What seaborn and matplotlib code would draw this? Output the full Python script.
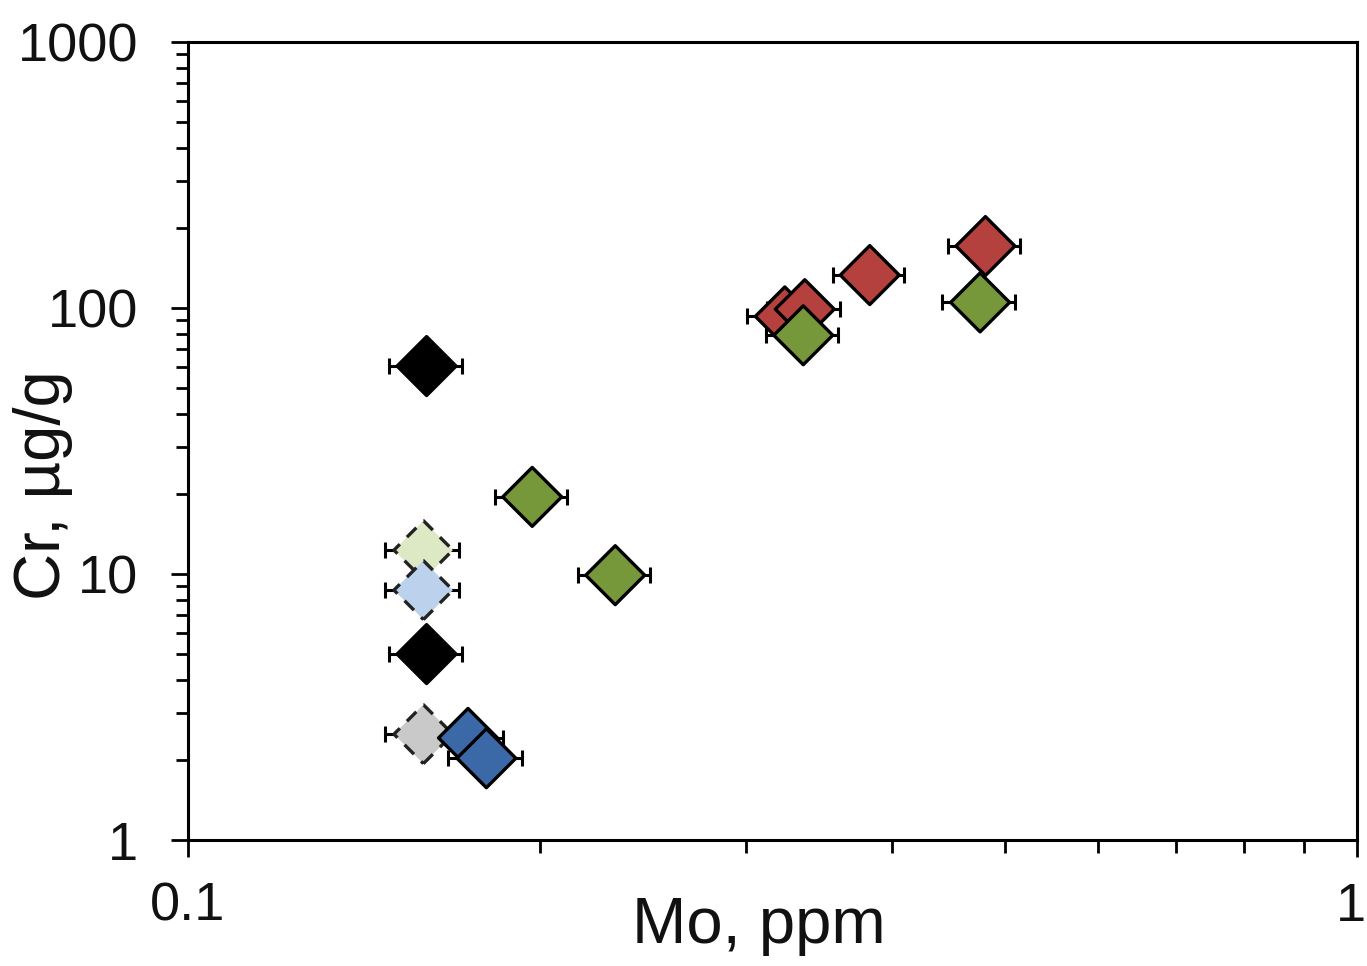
import numpy as np
import pandas as pd
import seaborn as sns
import matplotlib.pyplot as plt
import matplotlib.transforms as mtransforms

# Mo (ppm) vs Cr (ug/g)
red_mo = [0.324, 0.337, 0.383, 0.481]
red_cr = [93, 99, 133, 171]
red_err = [0.023, 0.024, 0.027, 0.034]

green_mo = [0.197, 0.232, 0.336, 0.476]
green_cr = [19.5, 9.9, 79, 105]
green_err = [0.014, 0.0165, 0.024, 0.034]

black_mo = [0.160, 0.160]
black_cr = [60.5, 5.0]
black_err = [0.0115, 0.0115]

blue_mo = [0.1736, 0.180]
blue_cr = [2.42, 2.03]
blue_err = [0.0125, 0.013]

grey_mo = [0.159]
grey_cr = [2.5]
grey_err = [0.0115]

lightgreen_mo = [0.159]
lightgreen_cr = [12.3]
lightgreen_err = [0.0115]

lightblue_mo = [0.159]
lightblue_cr = [8.7]
lightblue_err = [0.0115]

xticks = [0.1, 1]
xticklabels = ['0.1', '1']
yticks = [1, 10, 100, 1000]
yticklabels = ['1', '10', '100', '1000']

palette = {
    'red': '#b5413f',
    'green': '#77983a',
    'black': '#000000',
    'blue': '#3b69a8',
    'grey': '#c9c9c9',
    'lightgreen': '#dde8c4',
    'lightblue': '#bcd2ec',
}


def make_df(name, mo, cr, err):
    return pd.DataFrame({'Mo': mo, 'Cr': cr, 'err': err, 'group': name})


solidDf = pd.concat([
    make_df('red', red_mo, red_cr, red_err),
    make_df('green', green_mo, green_cr, green_err),
    make_df('black', black_mo, black_cr, black_err),
    make_df('blue', blue_mo, blue_cr, blue_err),
], ignore_index=True)

dashedDf = pd.concat([
    make_df('grey', grey_mo, grey_cr, grey_err),
    make_df('lightgreen', lightgreen_mo, lightgreen_cr, lightgreen_err),
    make_df('lightblue', lightblue_mo, lightblue_cr, lightblue_err),
], ignore_index=True)

sns.set_style('ticks')
plt.rcParams['font.family'] = ['Liberation Sans', 'DejaVu Sans']

fig = plt.figure(figsize=(13.67, 9.66), dpi=100)
ax = fig.add_axes([0.1375, 0.1304, 0.8552, 0.8261])

allDf = pd.concat([dashedDf, solidDf], ignore_index=True)
ax.errorbar(allDf['Mo'], allDf['Cr'], xerr=allDf['err'], fmt='none',
            ecolor='black', elinewidth=2.2, capsize=6, capthick=2.2, zorder=1)

sns.scatterplot(data=dashedDf, x='Mo', y='Cr', hue='group', palette=palette,
                marker='D', s=900, edgecolor='#222222', linewidth=2.4,
                linestyle=(0, (4, 3)), legend=False, ax=ax, zorder=2)
sns.scatterplot(data=solidDf, x='Mo', y='Cr', hue='group', palette=palette,
                marker='D', s=900, edgecolor='black', linewidth=2.4,
                legend=False, ax=ax, zorder=3)

ax.set_xscale('log')
ax.set_yscale('log')
ax.set_xlim(0.1, 1)
ax.set_ylim(1, 1000)

ax.set_xticks(xticks)
ax.set_xticklabels(xticklabels)
ax.set_yticks(yticks)
ax.set_yticklabels(yticklabels)
ax.xaxis.set_minor_locator(plt.matplotlib.ticker.LogLocator(base=10, subs=np.arange(2, 10)))
ax.yaxis.set_minor_locator(plt.matplotlib.ticker.LogLocator(base=10, subs=np.arange(2, 10)))
ax.xaxis.set_minor_formatter(plt.NullFormatter())
ax.yaxis.set_minor_formatter(plt.NullFormatter())

ax.tick_params(axis='both', which='major', direction='out', length=12, width=2,
               labelsize=39, color='black', labelcolor='#111111')
ax.tick_params(axis='both', which='minor', direction='out', length=9, width=2,
               color='black')
ax.tick_params(axis='x', which='major', pad=18)
ax.tick_params(axis='y', which='major', pad=24)

# keep the "1" at the right edge inside the canvas
lastLabel = ax.get_xticklabels()[-1]
lastLabel.set_transform(lastLabel.get_transform() +
                        mtransforms.ScaledTranslation(-6 / 100, 0, fig.dpi_scale_trans))

for side in ['top', 'right', 'bottom', 'left']:
    ax.spines[side].set_visible(True)
    ax.spines[side].set_linewidth(2.2)
    ax.spines[side].set_color('black')

ax.set_xlabel('Mo, ppm', fontsize=47, color='#111111')
ax.set_ylabel('Cr, µg/g', fontsize=47, color='#111111')
ax.xaxis.set_label_coords(0.488, -0.070)
ax.yaxis.set_label_coords(-0.098, 0.445)

fig.savefig('out.png', dpi=100)
